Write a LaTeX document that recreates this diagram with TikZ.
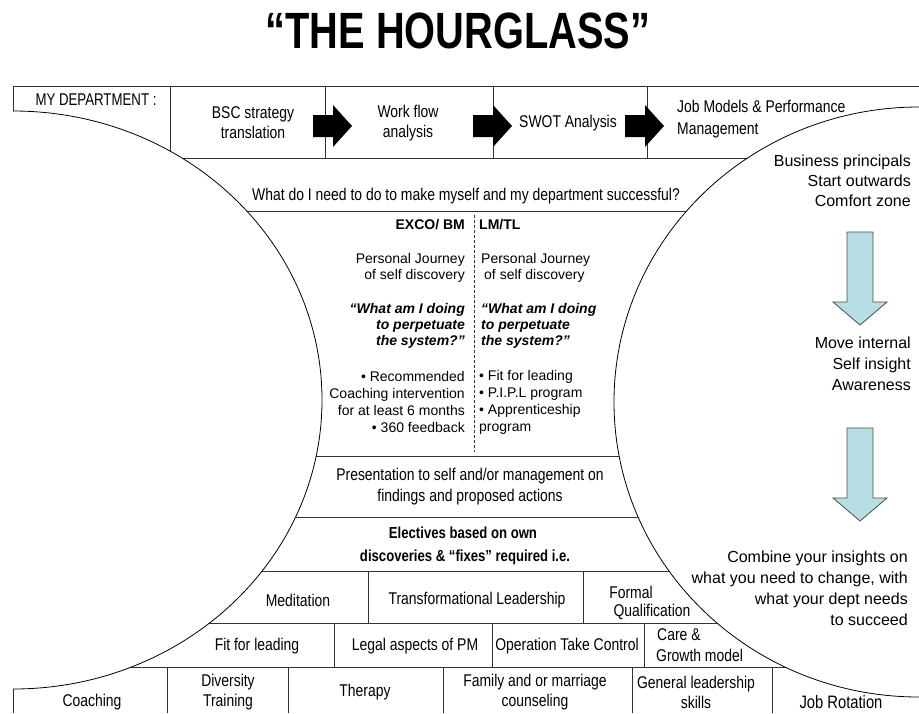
\documentclass[tikz,border=0pt]{standalone}
\usepackage{fontspec}
\setmainfont{Liberation Sans}
\newfontfamily\tablefont[FakeStretch=0.82]{Liberation Sans}
\usepackage{graphicx}
\definecolor{arrowteal}{RGB}{183,222,226}

% black block arrow between the top-row boxes; #1 = left end of the shaft
\newcommand{\blkarrow}[1]{%
  \fill[black] (#1,115) -- ++(20,0) -- ++(0,-10) -- ++(19,21) -- ++(-19,21)
    -- ++(0,-10) -- ++(-20,0) -- cycle;}
% pale downward arrow on the right side; #1 = top of the shaft
\newcommand{\tealarrow}[1]{%
  \filldraw[fill=arrowteal, draw=black!70, line width=0.8pt]
    (847,#1) -- ++(26,0) -- ++(0,70) -- ++(14,0) -- ++(-27,23) -- ++(-27,-23)
    -- ++(14,0) -- cycle;}

\begin{document}
\begin{tikzpicture}[x=1pt, y=-1pt,
  rule/.style={line width=0.8pt, draw=black!80},
  curve/.style={line width=0.8pt, draw=black},
  cell/.style={font=\tablefont\fontsize{17}{20}\selectfont, align=center, inner sep=0pt},
  cellb/.style={font=\tablefont\fontsize{16}{20}\selectfont\bfseries, align=center, inner sep=0pt},
  body/.style={font=\fontsize{14}{16}\selectfont, inner sep=0pt},
  bodyb/.style={font=\fontsize{14}{16}\selectfont\bfseries, inner sep=0pt},
  bodybi/.style={font=\fontsize{14}{16}\selectfont\bfseries\itshape, inner sep=0pt},
  bullets/.style={font=\fontsize{14}{17}\selectfont, inner sep=0pt},
  side/.style={font=\fontsize{16}{20}\selectfont, align=right, anchor=east, inner sep=0pt},
  titlefont/.style={font=\fontsize{51}{51}\selectfont\bfseries, inner sep=0pt}]

\useasboundingbox (0,0) rectangle (919,713);
\fill[white] (0,0) rectangle (919,713);

% title
\node[titlefont] (title) at (458,31) {\scalebox{0.78}[1]{“THE HOURGLASS”}};

% table rules, kept outside the two half-ellipses
\begin{scope}[even odd rule]
  \clip (-20,-20) rectangle (940,740)
    (13,400) ellipse [x radius=309, y radius=289]
    (919,402) ellipse [x radius=305, y radius=295];
  \draw[rule] (13,86) -- (919,86);
  \draw[rule] (13,86) -- (13,130);
  \draw[rule] (170,86) -- (170,200);
  \foreach \x in {325,493,647} \draw[rule] (\x,86) -- (\x,158);
  \foreach \y in {158,211,456,517,571,623,667} \draw[rule] (0,\y) -- (919,\y);
  \foreach \x in {368,583} \draw[rule] (\x,571) -- (\x,623);
  \foreach \x in {334,492,644} \draw[rule] (\x,623) -- (\x,667);
  \foreach \x in {13,167,288,443,632,772} \draw[rule] (\x,667) -- (\x,713);
\end{scope}

% dashed divider between the two groups
\draw[rule, dash pattern=on 3pt off 2pt] (474,215) -- (474,452);

% the hourglass sides
\draw[curve] (13,111) arc[start angle=-90, end angle=90, x radius=309, y radius=289];
\draw[curve] (919,697) arc[start angle=90, end angle=270, x radius=305, y radius=295];

% top row
\node[cell] (mydept) at (96,100) {\scalebox{0.95}[1]{MY DEPARTMENT :}};
\node[cell] (bsc) at (253,123) {BSC strategy\\translation};
\node[cell] (workflow) at (408,123) {Work flow\\analysis};
\node[cell] (swot) at (568,123) {SWOT Analysis};
\node[cell, anchor=west, align=left, font=\tablefont\fontsize{17}{22}\selectfont] (jobmodels) at (677,119)
  {Job Models \& Performance\\Management};
\blkarrow{313}
\blkarrow{473}
\blkarrow{625}

% question
\node[cell] (question) at (466,196)
  {What do I need to do to make myself and my department successful?};

% two columns
\node[bodyb, anchor=east] (exco) at (465,225) {EXCO/ BM};
\node[bodyb, anchor=west] (lmtl) at (479,225) {LM/TL};
\node[body, anchor=east, align=right] (journeyL) at (465,268) {Personal Journey\\of self discovery};
\node[body, anchor=west, align=left] (journeyR) at (481,268) {Personal Journey\\\hspace*{3pt}of self discovery};
\node[bodybi, anchor=east, align=right] (askL) at (465,326) {“What am I doing\\to perpetuate\\the system?”};
\node[bodybi, anchor=west, align=left] (askR) at (481,326) {“What am I doing\\to perpetuate\\the system?”};
\node[bullets, anchor=east, align=right] (listL) at (465,402)
  {• Recommended\\Coaching intervention\\for at least 6 months\\• 360 feedback};
\node[bullets, anchor=west, align=left] (listR) at (479,402)
  {• Fit for leading\\• P.I.P.L program\\• Apprenticeship\\program};

% presentation and electives
\node[cell, font=\tablefont\fontsize{17}{21}\selectfont] (present) at (470,487)
  {Presentation to self and/or management on\\findings and proposed actions};
\node[cellb] (elect1) at (463,533) {Electives based on own};
\node[cellb] (elect2) at (465,557) {discoveries \& “fixes” required i.e.};

% elective rows
\node[cell] (meditation) at (298,600) {Meditation};
\node[cell] (transform) at (477,600) {Transformational Leadership};
\node[cell] (formal) at (631,592) {Formal};
\node[cell] (qualif) at (652,612) {Qualification};
\node[cell] (fit) at (257,646) {Fit for leading};
\node[cell] (legal) at (415,646) {Legal aspects of PM};
\node[cell] (otc) at (567,646) {Operation Take Control};
\node[cell, anchor=west] (care) at (657,635) {Care \&};
\node[cell, anchor=west] (growth) at (656,655) {Growth model};
\node[cell] (coaching) at (92,702) {Coaching};
\node[cell] (diversity) at (228,692) {Diversity\\Training};
\node[cell] (therapy) at (365,692) {Therapy};
\node[cell] (family) at (535,692) {Family and or marriage\\counseling};
\node[cell] (general) at (696,692) {General leadership\\skills};
\node[cell, font=\tablefont\fontsize{18}{20}\selectfont] (jobrot) at (841,702) {Job Rotation};

% right-hand commentary
\node[side] (business) at (911,181) {Business principals\\Start outwards\\Comfort zone};
\tealarrow{232}
\node[side, font=\fontsize{16}{21}\selectfont] (internal) at (911,364) {Move internal\\Self insight\\Awareness};
\tealarrow{428}
\node[side, font=\fontsize{16}{21}\selectfont] (combine) at (908,588)
  {Combine your insights on\\what you need to change, with\\what your dept needs\\to succeed};

\end{tikzpicture}
\end{document}
